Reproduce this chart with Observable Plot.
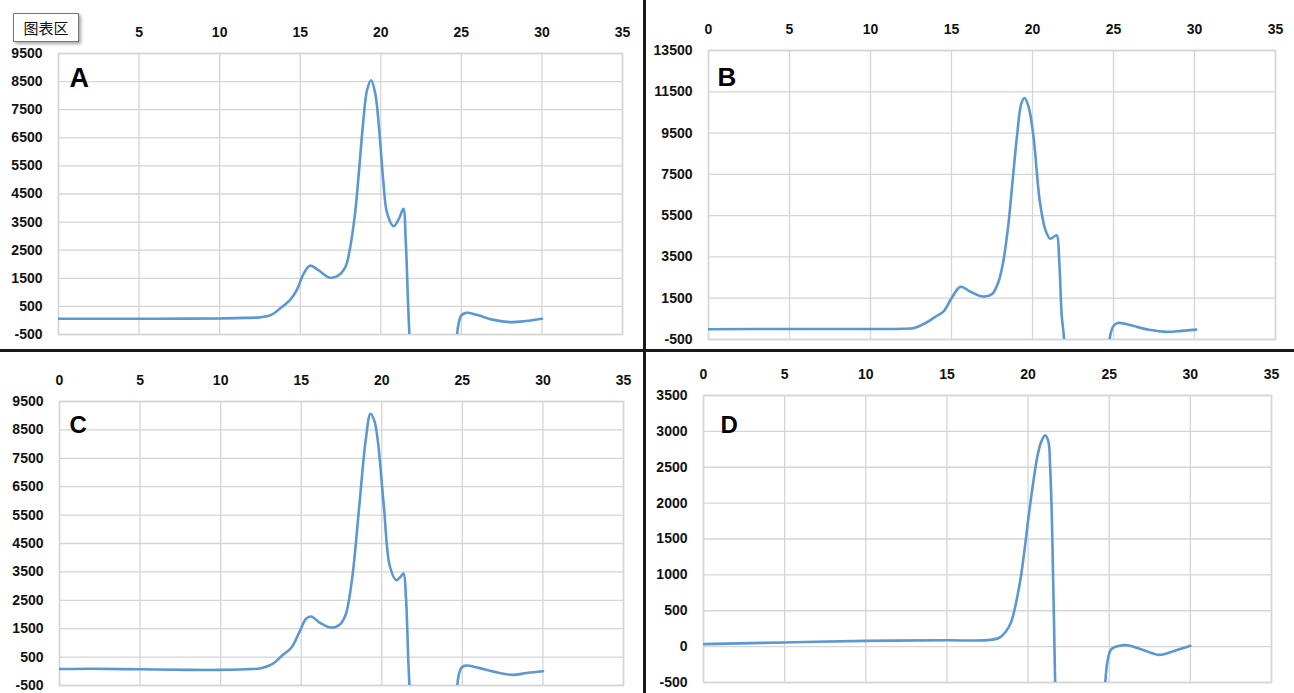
<!DOCTYPE html>
<html>
<head>
<meta charset="utf-8">
<script src="https://cdn.jsdelivr.net/npm/d3@7"></script>
<script src="https://cdn.jsdelivr.net/npm/@observablehq/plot@0.6"></script>
<style>
  html, body { margin: 0; padding: 0; background: #fff; }
  #root { position: relative; width: 1294px; height: 693px; overflow: hidden; background: #fff; }
  .panel { position: absolute; }
  .sep { position: absolute; background: #1a1a1a; }
  #chartArea {
    position: absolute; left: 13px; top: 13px; width: 64px; height: 27px;
    border: 1px solid #777; background: #fff;
    box-shadow: 2px 2px 3px rgba(0,0,0,0.35);
    font: 15px "Noto Sans CJK SC", sans-serif; color: #111;
    display: flex; align-items: center; justify-content: center;
  }
</style>
</head>
<body>
<div id="root"></div>
<script>
// ---- data ----
const xTicks = [0, 5, 10, 15, 20, 25, 30, 35];
const xLabelsA = [5, 10, 15, 20, 25, 30, 35]; // "0" is hidden behind the 图表区 tag in panel A
const yTicksA = [-500, 500, 1500, 2500, 3500, 4500, 5500, 6500, 7500, 8500, 9500];
const yTicksB = [-500, 1500, 3500, 5500, 7500, 9500, 11500, 13500];
const yTicksC = [-500, 500, 1500, 2500, 3500, 4500, 5500, 6500, 7500, 8500, 9500];
const yTicksD = [-500, 0, 500, 1000, 1500, 2000, 2500, 3000, 3500];
const panelLabels = ["A", "B", "C", "D"];
const boxLabel = "图表区";

const xA = [0, 2, 5, 8, 10, 11.5, 12.5, 13.2, 13.8, 14.4, 14.8, 15.2, 15.6, 16.1, 16.8, 17.3, 17.8, 18.1, 18.4, 18.6, 18.9, 19.15, 19.4, 19.65, 19.9, 20.15, 20.4, 20.8, 21.15, 21.4, 21.55, 21.7, 21.85, 22.0, 24.5, 24.65, 24.8, 25.0, 25.3, 26.0, 27.0, 28.1, 29.0, 30.0];
const vA = [60, 60, 60, 65, 70, 90, 110, 200, 450, 750, 1100, 1650, 1950, 1800, 1530, 1580, 1900, 2600, 3800, 5000, 7000, 8200, 8550, 8100, 6800, 5000, 3800, 3350, 3650, 3970, 2800, 500, -1500, -4000, -4000, -1500, -200, 180, 270, 190, 20, -60, -20, 60];

const xB = [0, 5, 10, 12, 12.7, 13.4, 14.0, 14.5, 15.0, 15.55, 16.2, 16.95, 17.5, 17.9, 18.2, 18.5, 18.75, 19.05, 19.3, 19.5, 19.75, 20.05, 20.45, 20.8, 21.1, 21.35, 21.5, 21.65, 21.8, 21.95, 22.1, 24.5, 24.65, 24.8, 25.0, 25.25, 26.0, 27.2, 28.3, 29.2, 30.1];
const vB = [0, 10, 10, 20, 60, 300, 600, 850, 1500, 2050, 1800, 1580, 1700, 2300, 3300, 5000, 7000, 9400, 10900, 11200, 10800, 9400, 6200, 4800, 4380, 4500, 4550, 3300, 700, -500, -4000, -4000, -1500, -300, 150, 300, 200, -30, -130, -80, -20];

const xC = [0, 2, 5, 8, 10, 11.5, 12.5, 13.2, 13.8, 14.4, 14.9, 15.3, 15.6, 16.2, 16.85, 17.4, 17.75, 18.15, 18.6, 19.0, 19.3, 19.55, 19.75, 20.13, 20.5, 20.9, 21.2, 21.35, 21.5, 21.65, 21.8, 21.95, 24.4, 24.6, 24.75, 24.95, 25.2, 26.0, 27.0, 28.1, 29.0, 30.0];
const vC = [80, 90, 70, 50, 50, 70, 110, 250, 550, 840, 1400, 1850, 1930, 1700, 1540, 1650, 1980, 3230, 5800, 8130, 9070, 8800, 8130, 5800, 3700, 3210, 3350, 3440, 2600, 300, -1500, -4000, -4000, -1500, -200, 130, 200, 120, -20, -127, -60, 0];

const xD = [0, 5, 10, 15, 17.5, 18.2, 18.6, 18.95, 19.25, 19.57, 19.8, 20.0, 20.2, 20.39, 20.6, 20.8, 21.05, 21.25, 21.36, 21.46, 21.53, 21.59, 21.67, 21.8, 24.6, 24.75, 24.9, 25.12, 25.6, 26.1, 27.0, 28.1, 29.0, 30.0];
const vD = [35, 58, 80, 88, 90, 120, 200, 338, 600, 995, 1380, 1760, 2100, 2400, 2680, 2850, 2944, 2860, 2500, 1840, 1100, 433, -530, -2500, -2500, -530, -200, -38, 10, 20, -40, -115, -60, 12];

// ---- layout / style ----
const panels = [
  {xs: xA, vs: vA, yTicks: yTicksA, xLabels: xLabelsA, label: panelLabels[0], left: 0, top: 0, width: 642, height: 346,
   mL: 58, mR: 20, mT: 53, mB: 12, lx: 11, ly: 14, lsize: 27},
  {xs: xB, vs: vB, yTicks: yTicksB, xLabels: xTicks, label: panelLabels[1], left: 648, top: 0, width: 646, height: 346,
   mL: 60, mR: 19, mT: 50, mB: 7, lx: 9, ly: 17, lsize: 26},
  {xs: xC, vs: vC, yTicks: yTicksC, xLabels: xTicks, label: panelLabels[2], left: 0, top: 352, width: 642, height: 341,
   mL: 59, mR: 19, mT: 49, mB: 8, lx: 10, ly: 14, lsize: 24},
  {xs: xD, vs: vD, yTicks: yTicksD, xLabels: xTicks, label: panelLabels[3], left: 648, top: 352, width: 646, height: 341,
   mL: 55, mR: 23, mT: 43, mB: 11, lx: 17, ly: 20, lsize: 24}
];

const root = document.getElementById("root");
const gridColor = "#d5d5d5";
const fmt = d => String(d);

for (const p of panels) {
  const data = p.xs.map((x, i) => ({x, v: p.vs[i]}));
  const yDomain = [d3.min(p.yTicks), d3.max(p.yTicks)];
  const chart = Plot.plot({
    width: p.width,
    height: p.height,
    marginLeft: p.mL,
    marginRight: p.mR,
    marginTop: p.mT,
    marginBottom: p.mB,
    x: {domain: [0, 35], label: null},
    y: {domain: yDomain, label: null},
    style: {
      fontFamily: "'Liberation Sans', Arial, sans-serif",
      fontSize: "14px",
      fontWeight: "bold",
      color: "#111",
      background: "white",
      overflow: "visible"
    },
    marks: [
      Plot.gridX(xTicks, {stroke: gridColor, strokeOpacity: 1, strokeWidth: 1.3}),
      Plot.gridY(p.yTicks, {stroke: gridColor, strokeOpacity: 1, strokeWidth: 1.3}),
      Plot.frame({stroke: gridColor, strokeWidth: 1.5}),
      Plot.axisX(p.xLabels, {anchor: "top", tickSize: 0, tickPadding: 17, tickFormat: fmt}),
      Plot.axisY(p.yTicks, {anchor: "left", tickSize: 0, tickPadding: 16, tickFormat: fmt}),
      Plot.line(data, {x: "x", y: "v", curve: "catmull-rom", stroke: "#5b98d2", strokeWidth: 2.6, clip: true}),
      Plot.text([p.label], {
        frameAnchor: "top-left", dx: p.lx, dy: p.ly, textAnchor: "start", lineAnchor: "top",
        fontSize: p.lsize, fontWeight: "bold", fill: "#000"
      })
    ]
  });
  const div = document.createElement("div");
  div.className = "panel";
  div.style.left = p.left + "px";
  div.style.top = p.top + "px";
  div.appendChild(chart);
  root.appendChild(div);
}

// separators
const vSep = document.createElement("div");
vSep.className = "sep";
Object.assign(vSep.style, {left: "643px", top: "0px", width: "3px", height: "693px"});
root.appendChild(vSep);
const hSep = document.createElement("div");
hSep.className = "sep";
Object.assign(hSep.style, {left: "0px", top: "349px", width: "1294px", height: "2.5px"});
root.appendChild(hSep);

// chart-area tag
const box = document.createElement("div");
box.id = "chartArea";
box.textContent = boxLabel;
root.appendChild(box);
</script>
</body>
</html>
